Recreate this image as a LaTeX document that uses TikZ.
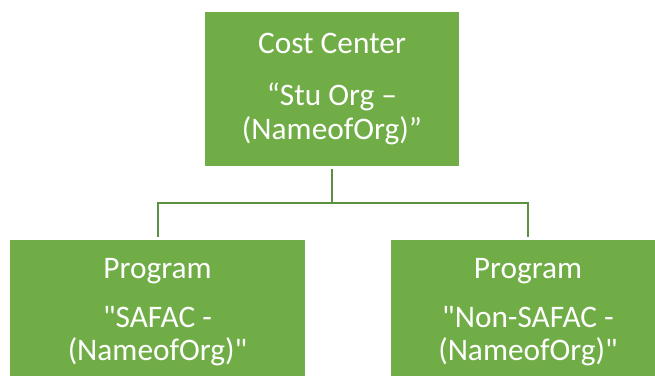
\documentclass[tikz,border=0pt]{standalone}
\usepackage{fontspec}
\setmainfont{Carlito}
\definecolor{boxgreen}{HTML}{70AD47}
\definecolor{linegreen}{HTML}{5B9140}
\tikzset{
    orgbox/.style={fill=boxgreen, text=white, align=center, inner sep=0pt,
        font=\fontsize{23.5}{25}\selectfont},
    link/.style={draw=linegreen, line width=1.5pt}
}
\begin{document}
\begin{tikzpicture}[x=0.75pt,y=-0.75pt]
    \useasboundingbox (0,0) rectangle (655,375);
    \clip (0,0) rectangle (655,375);
    \node[orgbox, minimum width=190.5pt, minimum height=115.5pt] (cc) at (332,89)
        {Cost Center\\[14pt]“Stu Org –\\(NameofOrg)”};
    \node[orgbox, minimum width=221.25pt, minimum height=108pt] (pl) at (157.5,312)
        {Program\\[12pt]\textquotedbl SAFAC -\\(NameofOrg)\textquotedbl};
    \node[orgbox, minimum width=205.5pt, minimum height=108pt] (pr) at (528,312)
        {Program\\[12pt]\textquotedbl Non-SAFAC -\\(NameofOrg)\textquotedbl};
    \coordinate (bus) at (332,203);
    \draw[link] ([yshift=-2pt]cc.south) -- (bus);
    \draw[link] ([yshift=2pt]pl.north) |- (bus) -| ([yshift=2pt]pr.north);
\end{tikzpicture}
\end{document}
